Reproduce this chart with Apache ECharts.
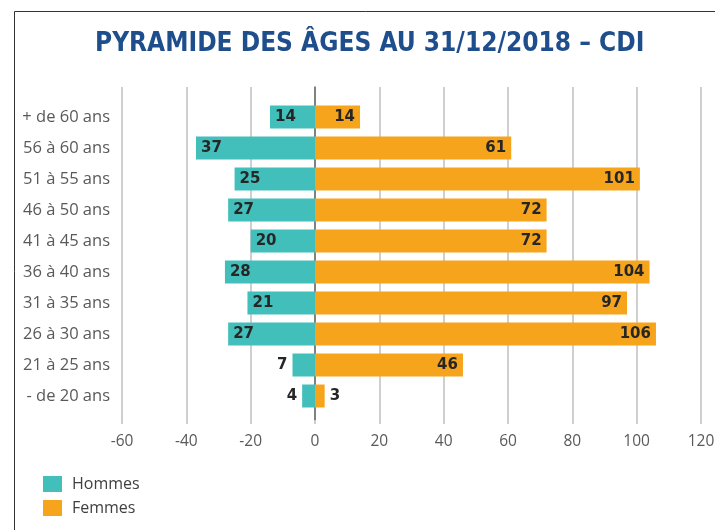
<!DOCTYPE html>
<html><head><meta charset="utf-8">
<script src="https://cdn.jsdelivr.net/npm/echarts@6/dist/echarts.min.js"></script>
<style>html,body{margin:0;padding:0;background:#fff}#c{width:715px;height:530px}</style>
</head><body><div id="c"></div>
<script>
const categories = ['+ de 60 ans','56 à 60 ans','51 à 55 ans','46 à 50 ans','41 à 45 ans','36 à 40 ans','31 à 35 ans','26 à 30 ans','21 à 25 ans','- de 20 ans'];
const hommes = [14,37,25,27,20,28,21,27,7,4];
const femmes = [14,61,101,72,72,104,97,106,46,3];
const xTicks = {min:-60, max:120, interval:20};

const labelBase = {show:true, fontFamily:'DejaVu Sans', fontWeight:'bold', fontSize:15, color:'#262626'};
const chart = echarts.init(document.getElementById('c'));
chart.setOption({
  animation:false,
  graphic:[{type:'rect', left:12, top:9, shape:{x:0, y:0, width:800, height:600}, style:{fill:'none', stroke:'#333', lineWidth:1}, z:-1}],
  title:{text:'PYRAMIDE DES ÂGES AU 31/12/2018 – CDI', left:90, top:26,
    textStyle:{fontFamily:'DejaVu Sans Condensed', fontWeight:'bold', fontSize:26, color:'#1F4E8D'}},
  legend:{orient:'vertical', left:38, top:471, itemWidth:19, itemHeight:16, itemGap:8, icon:'rect',
    textStyle:{fontFamily:'Open Sans', fontSize:16, color:'#404040', padding:[0,0,0,5]}, data:['Hommes','Femmes']},
  grid:[
    {left:122, right:14, top:101.5, height:310, outerBoundsMode:'none', containLabel:false},
    {left:122, right:14, top:87, bottom:110, outerBoundsMode:'none', containLabel:false}
  ],
  xAxis:[
    {gridIndex:0, type:'value', min:xTicks.min, max:xTicks.max, interval:xTicks.interval, show:false},
    {gridIndex:1, type:'value', min:xTicks.min, max:xTicks.max, interval:xTicks.interval,
      axisLine:{show:false}, axisTick:{show:true, length:4, lineStyle:{color:'#BFBFBF', width:1.5}},
      splitLine:{show:true, lineStyle:{color:'#BFBFBF', width:1.5}},
      axisLabel:{color:'#595959', fontFamily:'Open Sans', fontSize:15.5, margin:14}}
  ],
  yAxis:[
    {gridIndex:0, type:'category', data:categories, inverse:true,
      axisLine:{show:false}, axisTick:{show:false},
      axisLabel:{color:'#595959', fontFamily:'Open Sans', fontSize:16.5, margin:12}},
    {gridIndex:1, type:'value', min:0, max:1,
      axisLine:{show:true, onZero:true, lineStyle:{color:'#666', width:1.5}},
      axisTick:{show:false}, axisLabel:{show:false}, splitLine:{show:false}}
  ],
  series:[
    {name:'Hommes', type:'bar', xAxisIndex:0, yAxisIndex:0, barWidth:23, barGap:'-100%',
      itemStyle:{color:'#43BFBB'},
      data:hommes.map(v=>({value:-v, label:Object.assign({}, labelBase, {position: v<10?'left':'insideLeft', distance:5})})),
      label:Object.assign({}, labelBase, {formatter:p=>Math.abs(p.value)})},
    {name:'Femmes', type:'bar', xAxisIndex:0, yAxisIndex:0, barWidth:23, barGap:'-100%',
      itemStyle:{color:'#F7A41D'},
      data:femmes.map(v=>({value:v, label:Object.assign({}, labelBase, {position: v<10?'right':'insideRight', distance:5})})),
      label:Object.assign({}, labelBase)}
  ]
});
</script></body></html>
